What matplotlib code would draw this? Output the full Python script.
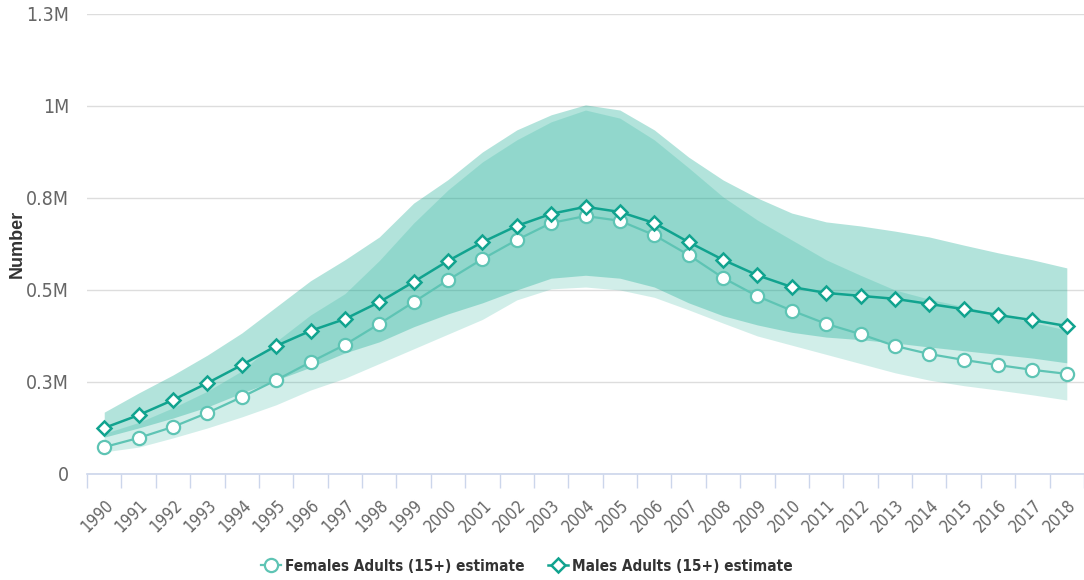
import numpy as np
import matplotlib
matplotlib.use("Agg")
import matplotlib.pyplot as plt
from matplotlib.ticker import FixedLocator

# values in thousands
years = list(range(1990, 2019))
females = [73, 98, 128, 166, 209, 255, 304, 351, 408, 467, 527, 584, 636, 682, 701,
           688, 649, 595, 533, 483, 444, 408, 380, 348, 326, 310, 296, 283, 272]
males = [125, 160, 201, 247, 296, 348, 389, 421, 467, 522, 579, 630, 674, 707, 726,
         712, 682, 630, 582, 540, 508, 492, 484, 476, 462, 448, 432, 418, 402]
fem_lo = [60, 73, 98, 125, 155, 188, 228, 260, 300, 340, 380, 420, 473, 503, 508,
          500, 480, 446, 410, 375, 350, 325, 300, 275, 255, 240, 228, 215, 201]
fem_hi = [110, 140, 180, 225, 280, 360, 432, 490, 580, 682, 772, 848, 908, 957, 989,
          967, 908, 832, 753, 690, 636, 582, 540, 500, 475, 455, 435, 412, 391]
male_lo = [100, 125, 152, 182, 220, 255, 290, 329, 359, 400, 435, 465, 500, 532, 540,
           532, 508, 465, 430, 405, 385, 372, 365, 356, 345, 335, 325, 315, 302]
male_hi = [168, 220, 269, 323, 383, 454, 525, 582, 644, 736, 800, 875, 935, 976, 1003,
           989, 935, 861, 799, 750, 709, 685, 674, 660, 644, 622, 601, 582, 560]
ytick_vals = [0, 250000, 500000, 750000, 1000000, 1250000]
ytick_labels = ["0", "0.3M", "0.5M", "0.8M", "1M", "1.3M"]

plt.rcParams["font.family"] = ["DejaVu Sans"]
plt.rcParams["font.stretch"] = "condensed"

fem_color = "#5ec4b4"
male_color = "#11a38f"
band_color = "#00a58a"

x = np.arange(len(years))
k = 1000

fig = plt.figure(figsize=(10.84, 5.8), dpi=100)
ax = fig.add_axes([0.0803, 0.1828, 0.9197, 0.7931])

ax.fill_between(x, np.array(fem_lo) * k, np.array(fem_hi) * k, color=band_color,
                alpha=0.18, linewidth=0, zorder=1)
ax.fill_between(x, np.array(male_lo) * k, np.array(male_hi) * k, color=band_color,
                alpha=0.30, linewidth=0, zorder=2)

ax.plot(x, np.array(females) * k, color=fem_color, lw=1.6, marker="o", ms=9.5,
        mfc="white", mec=fem_color, mew=1.6, zorder=4,
        label="Females Adults (15+) estimate")
ax.plot(x, np.array(males) * k, color=male_color, lw=1.8, marker="D", ms=7.5,
        mfc="white", mec=male_color, mew=1.8, zorder=5,
        label="Males Adults (15+) estimate")

ax.set_xlim(-0.5, len(years) - 0.5)
ax.set_ylim(0, 1250000)

ax.yaxis.set_major_locator(FixedLocator(ytick_vals))
ax.set_yticklabels(ytick_labels)
ax.grid(axis="y", color="#dddddd", lw=1)
ax.set_axisbelow(True)

ax.set_xticks(x)
ax.set_xticklabels([str(y) for y in years], rotation=45, ha="right", va="top",
                   rotation_mode="anchor")
ax.set_xticks(np.arange(len(years) + 1) - 0.5, minor=True)
ax.tick_params(axis="x", which="major", length=0, pad=16, labelsize=12,
               labelcolor="#666666")
ax.tick_params(axis="x", which="minor", length=10, width=1, color="#ccd6eb")
ax.tick_params(axis="y", length=0, pad=13, labelsize=14, labelcolor="#666666")

for s in ["top", "right", "left"]:
    ax.spines[s].set_visible(False)
ax.spines["bottom"].set_color("#ccd6eb")
ax.spines["bottom"].set_linewidth(1.2)

fig.text(0.016, 0.58, "Number", rotation=90, ha="center", va="center",
         fontsize=13, fontweight="bold", color="#333333",
         family=["Liberation Sans", "DejaVu Sans"], stretch="normal")

fig.legend(loc="center", bbox_to_anchor=(0.486, 0.024), ncol=2, frameon=False,
           handlelength=1.3, handletextpad=0.3, columnspacing=1.5,
           prop={"weight": "bold", "size": 11, "stretch": "condensed"},
           labelcolor="#333333")

fig.savefig("out.png", dpi=100)
